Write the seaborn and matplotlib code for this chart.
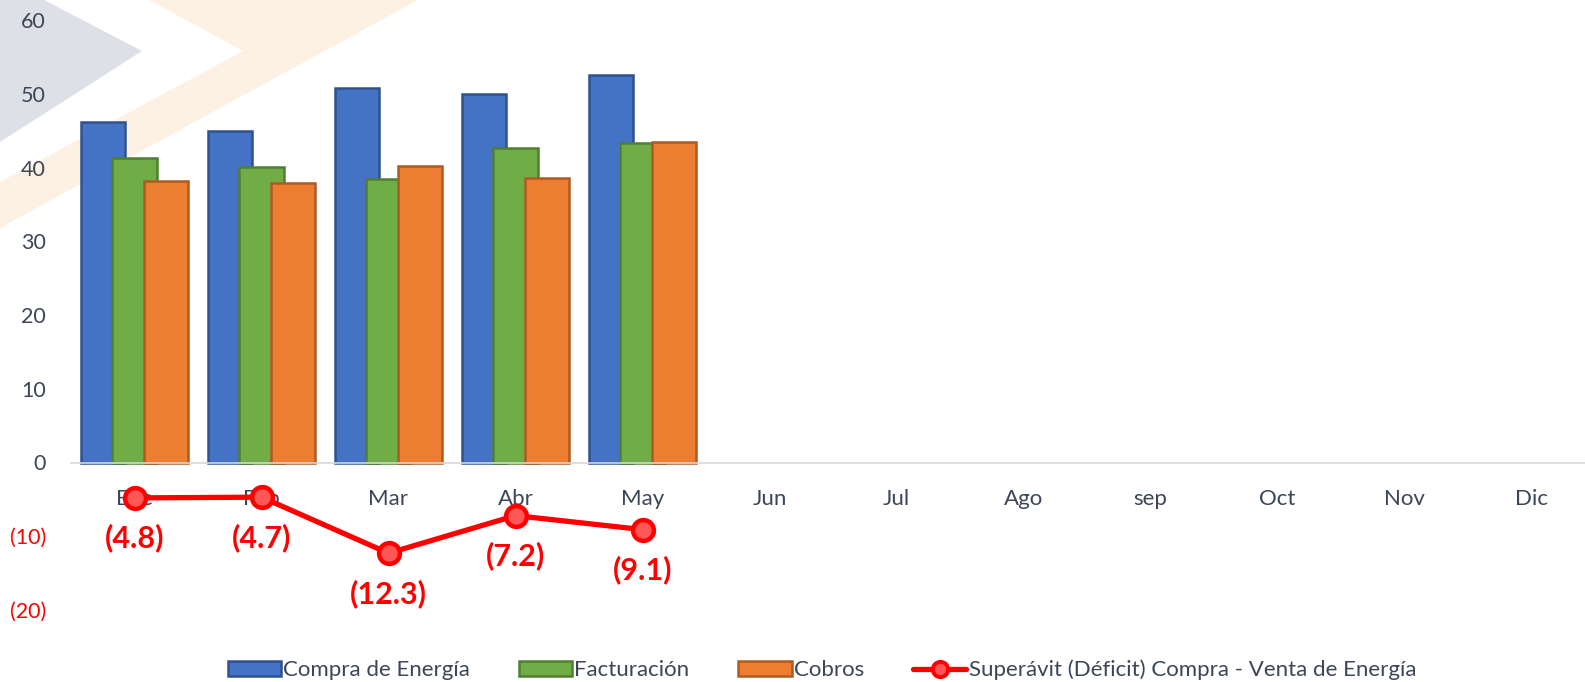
import numpy as np
import pandas as pd
import seaborn as sns
import matplotlib.pyplot as plt
from matplotlib.patches import Polygon, Patch
from matplotlib.lines import Line2D

meses = ['Ene', 'Feb', 'Mar', 'Abr', 'May', 'Jun', 'Jul', 'Ago', 'sep', 'Oct', 'Nov', 'Dic']
meses_datos = ['Ene', 'Feb', 'Mar', 'Abr', 'May']
compra = [46.2, 44.9, 50.8, 49.9, 52.6]
facturacion = [41.3, 40.1, 38.5, 42.6, 43.3]
cobros = [38.2, 37.9, 40.2, 38.6, 43.5]
superavit = [-4.8, -4.7, -12.3, -7.2, -9.1]

series = ['Compra de Energía', 'Facturación', 'Cobros']
linea_nombre = 'Superávit (Déficit) Compra - Venta de Energía'
colores = ['#4472C4', '#70AD47', '#ED7D31']
bordes = ['#2F528F', '#507E32', '#AE5A21']
gris = '#3C4656'

df = pd.DataFrame({'Mes': meses_datos * 3,
                   'Serie': np.repeat(series, len(meses_datos)),
                   'Valor': compra + facturacion + cobros})

sns.set_style('white')
plt.rcParams['font.family'] = ['Lato', 'DejaVu Sans']

W, H = 1585, 682
fig = plt.figure(figsize=(W / 100, H / 100), dpi=100)

# marca de agua de fondo (decorativa), coords en pixeles desde arriba
formas = [([(0, 0), (44, 0), (142, 51), (0, 142)], '#DDE0E6'),
          ([(149, 0), (418, 0), (0, 228), (0, 182), (243, 51)], '#FDF1E3')]
for pts, col in formas:
    pts = [(x, H - y) for x, y in pts]
    fig.patches.append(Polygon(pts, closed=True, facecolor=col, edgecolor='none',
                               zorder=-5, transform=None))

ax = fig.add_axes([71 / W, 1 - 610 / H, 12 * 127 / W, (610 - 20) / H])
ax.set_facecolor('none')

sns.barplot(data=df, x='Mes', y='Valor', hue='Serie', order=meses, hue_order=series,
            palette=colores, saturation=1, width=0.75, dodge=True, linewidth=1.8,
            legend=False, ax=ax, zorder=2)

# barras solapadas como en el original
for cont, ec in zip(ax.containers, bordes):
    for p in cont:
        c = p.get_x() + p.get_width() / 2
        p.set_width(0.35)
        p.set_x(c - 0.175)
        p.set_edgecolor(ec)

sns.lineplot(x=np.arange(len(superavit)), y=superavit, color='#FF0000', linewidth=3.8,
             marker='o', markersize=15, markerfacecolor='#FF5656', markeredgecolor='#FF0000',
             markeredgewidth=3.2, ax=ax, zorder=5)

for i, v in enumerate(superavit):
    ax.annotate('({:.1f})'.format(abs(v)), (i, v), xytext=(0, -29), textcoords='offset points',
                ha='center', va='center', color='#FF0000', fontsize=22, fontweight='bold')

ax.set_xlim(-0.5, len(meses) - 0.5)
ax.set_ylim(-20, 60)
yt = list(range(-20, 61, 10))
ax.set_yticks(yt)
ax.set_yticklabels([str(t) if t >= 0 else '({})'.format(-t) for t in yt], fontsize=15.5)
for lab, t in zip(ax.get_yticklabels(), yt):
    lab.set_color(gris if t >= 0 else '#FF0000')
ax.tick_params(axis='y', length=0, pad=18)
ax.tick_params(axis='x', length=0, pad=19, labelsize=16, labelcolor=gris)
ax.set_xlabel('')
ax.set_ylabel('')

for s in ['left', 'top', 'right']:
    ax.spines[s].set_visible(False)
ax.spines['bottom'].set_position(('data', 0))
ax.spines['bottom'].set_color('#D9D9D9')
ax.spines['bottom'].set_linewidth(1.2)

handles = [Patch(facecolor=c, edgecolor=e, linewidth=1.8) for c, e in zip(colores, bordes)]
handles.append(Line2D([], [], color='#FF0000', linewidth=3.8, marker='o', markersize=11,
                      markerfacecolor='#FF5656', markeredgecolor='#FF0000', markeredgewidth=2.8))
fig.legend(handles, series + [linea_nombre], loc='center', bbox_to_anchor=(0.5185, 1 - 670 / H),
           ncol=4, frameon=False, fontsize=16, handlelength=2.4, handleheight=0.65,
           handletextpad=0.1, columnspacing=2.2, labelcolor=gris)

fig.savefig('out.png', dpi=100)
